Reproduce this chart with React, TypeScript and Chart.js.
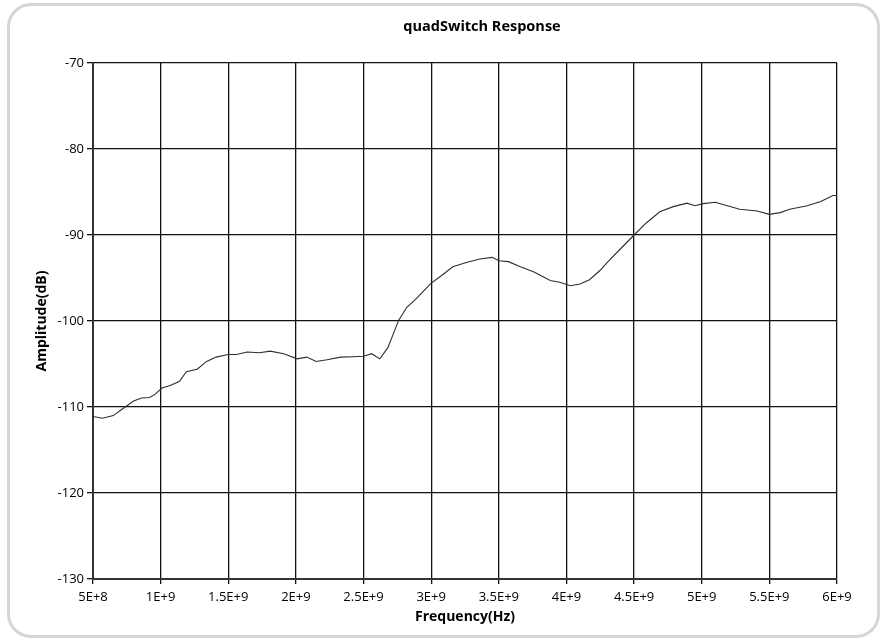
import React, { useEffect, useRef } from "react";
import { Chart, registerables } from "chart.js";

Chart.register(...registerables);

const chartTitle = "quadSwitch Response";
const xAxisTitle = "Frequency(Hz)";
const yAxisTitle = "Amplitude(dB)";

const xTickLabels = ["5E+8", "1E+9", "1.5E+9", "2E+9", "2.5E+9", "3E+9", "3.5E+9", "4E+9", "4.5E+9", "5E+9", "5.5E+9", "6E+9"];

// frequency in GHz
const frequencyGHz = [
  0.5, 0.57, 0.65, 0.72, 0.8, 0.86, 0.92, 0.96, 1.01, 1.07, 1.14, 1.19, 1.27, 1.34, 1.41, 1.5, 1.56, 1.64,
  1.73, 1.81, 1.91, 2.01, 2.08, 2.15, 2.23, 2.33, 2.42, 2.5, 2.56, 2.62, 2.68, 2.72, 2.76, 2.82, 2.89, 3.0,
  3.07, 3.16, 3.26, 3.36, 3.45, 3.5, 3.57, 3.66, 3.76, 3.88, 3.95, 4.03, 4.1, 4.17, 4.25, 4.3, 4.4, 4.5,
  4.59, 4.69, 4.79, 4.89, 4.95, 5.01, 5.1, 5.19, 5.28, 5.41, 5.5, 5.58, 5.65, 5.78, 5.88, 5.97, 6.0,
];

// amplitude in dB
const amplitudeDb = [
  -111.1, -111.3, -111.0, -110.2, -109.3, -108.95, -108.9, -108.5, -107.8, -107.5, -107.0, -105.9, -105.6,
  -104.7, -104.2, -103.9, -103.9, -103.6, -103.7, -103.5, -103.8, -104.4, -104.2, -104.7, -104.5, -104.2,
  -104.15, -104.1, -103.8, -104.4, -103.1, -101.5, -99.9, -98.4, -97.4, -95.6, -94.8, -93.7, -93.2, -92.8,
  -92.6, -93.0, -93.1, -93.7, -94.3, -95.3, -95.5, -95.9, -95.7, -95.2, -94.1, -93.2, -91.6, -90.0, -88.6,
  -87.3, -86.7, -86.3, -86.6, -86.35, -86.2, -86.6, -87.0, -87.2, -87.6, -87.4, -87.0, -86.6, -86.1, -85.4,
  -85.4,
];

const FONT = "'Open Sans', 'DejaVu Sans', sans-serif";
const GRID = "#111111";

export default function App() {
  const ref = useRef<HTMLCanvasElement | null>(null);

  useEffect(() => {
    if (!ref.current) return;
    const points = frequencyGHz.map((f, i) => ({ x: f * 1e9, y: amplitudeDb[i] }));
    const chart = new Chart(ref.current, {
      type: "line",
      data: {
        datasets: [
          {
            data: points,
            borderColor: "#2e2e2e",
            borderWidth: 1.1,
            pointRadius: 0,
            tension: 0,
            fill: false,
          },
        ],
      },
      options: {
        animation: false,
        responsive: false,
        devicePixelRatio: 1,
        layout: { padding: { left: 34, right: -48, top: 0, bottom: 0 } },
        plugins: {
          legend: { display: false },
          tooltip: { enabled: false },
          title: {
            display: true,
            text: chartTitle,
            color: "#000",
            font: { family: FONT, size: 14.5, weight: "bold" },
            padding: { top: 18.3, bottom: 27.3 },
          },
        },
        scales: {
          x: {
            type: "linear",
            min: 5e8,
            max: 6e9,
            afterFit: (s: any) => {
              s.height = 62;
            },
            ticks: {
              stepSize: 5e8,
              autoSkip: false,
              maxRotation: 0,
              padding: 5,
              color: "#000",
              font: { family: FONT, size: 13 },
              callback: (_v: any, i: number) => xTickLabels[i],
            },
            grid: { color: GRID, lineWidth: 1.3, tickLength: 5, drawTicks: true },
            border: { color: "#333", width: 2 },
            title: {
              display: true,
              text: xAxisTitle,
              color: "#000",
              font: { family: FONT, size: 14, weight: "bold" },
              padding: { top: 0, bottom: 15.6 },
            },
          },
          y: {
            type: "linear",
            position: "left",
            min: -130,
            max: -70,
            afterFit: (s: any) => {
              s.width = 59;
            },
            ticks: {
              stepSize: 10,
              padding: 3,
              color: "#000",
              font: { family: FONT, size: 13 },
            },
            grid: { color: GRID, lineWidth: 1.3, tickLength: 6, drawTicks: true },
            border: { color: "#333", width: 2 },
            title: {
              display: true,
              text: yAxisTitle,
              color: "#000",
              font: { family: FONT, size: 14, weight: "bold" },
              padding: { top: 0, bottom: 0 },
            },
          },
          yRight: {
            type: "linear",
            position: "right",
            display: true,
            min: -130,
            max: -70,
            afterFit: (s: any) => {
              s.width = 93;
            },
            ticks: { display: false },
            grid: { display: false },
            border: { display: false },
            title: { display: false },
          },
        },
      },
    });
    return () => chart.destroy();
  }, []);

  return (
    <div style={{ position: "fixed", left: 0, top: 0, width: 882, height: 641, background: "#fff", overflow: "hidden" }}>
      <div
        style={{
          position: "absolute",
          left: 7,
          top: 3,
          width: 873,
          height: 635,
          border: "3px solid #d6d6d6",
          borderRadius: 24,
          boxSizing: "border-box",
          pointerEvents: "none",
        }}
      />
      <canvas ref={ref} width={882} height={641} style={{ position: "absolute", left: 0, top: 0, width: 882, height: 641, display: "block" }} />
    </div>
  );
}
